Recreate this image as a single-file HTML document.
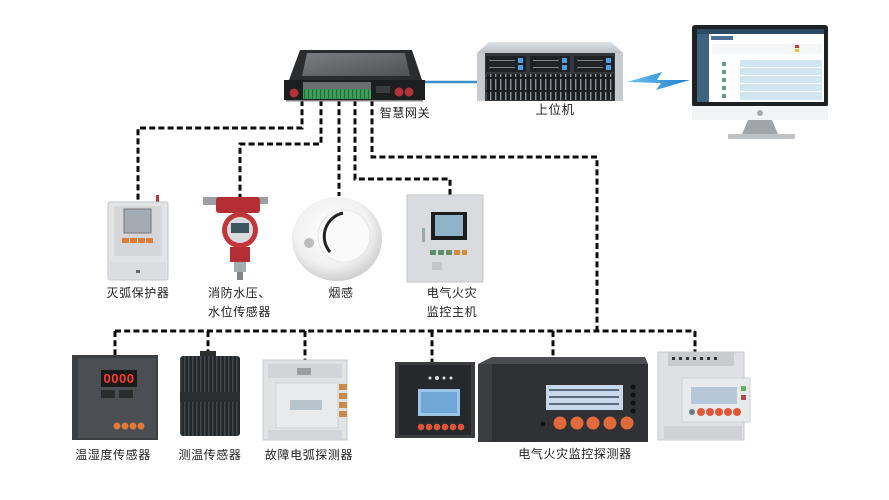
<!DOCTYPE html>
<html><head><meta charset="utf-8">
<style>
html,body{margin:0;padding:0;background:#fff;}
svg{display:block;}
text{font-family:"Liberation Sans","Noto Sans CJK SC",sans-serif;font-size:12px;fill:#222;letter-spacing:0.6px;}
</style></head><body>
<svg width="889" height="500" viewBox="0 0 889 500" xmlns="http://www.w3.org/2000/svg">
<defs>
  <pattern id="bays" width="5" height="13" patternUnits="userSpaceOnUse">
    <rect width="5" height="13" fill="#1b1d21"/>
    <rect x="0" y="1" width="1.4" height="11" fill="#8d939a"/>
  </pattern>
  <pattern id="ribs" width="4" height="10" patternUnits="userSpaceOnUse">
    <rect width="4" height="10" fill="#24272a"/>
    <rect x="0" width="1.5" height="10" fill="#43474c"/>
  </pattern>
  <pattern id="term" width="4" height="10" patternUnits="userSpaceOnUse">
    <rect width="4" height="10" fill="#3d9b5c"/>
    <rect x="0" width="1" height="10" fill="#2a6b3e"/>
  </pattern>
  <radialGradient id="smoke" cx="0.45" cy="0.4" r="0.6">
    <stop offset="0" stop-color="#ffffff"/>
    <stop offset="0.7" stop-color="#f1f1f1"/>
    <stop offset="1" stop-color="#cfcfcf"/>
  </radialGradient>
  <linearGradient id="lid" x1="0" y1="0" x2="0" y2="1">
    <stop offset="0" stop-color="#dfe2e7"/>
    <stop offset="1" stop-color="#b9bec5"/>
  </linearGradient>
  <linearGradient id="bolt" x1="0" y1="0" x2="1" y2="0">
    <stop offset="0" stop-color="#6cc1ee"/>
    <stop offset="1" stop-color="#1f7fd0"/>
  </linearGradient>
  <linearGradient id="gwscreen" x1="0" y1="0" x2="1" y2="1">
    <stop offset="0" stop-color="#7b7d80"/>
    <stop offset="1" stop-color="#4f5154"/>
  </linearGradient>
</defs>

<rect width="889" height="500" fill="#fff"/>

<!-- dashed connectors -->
<g fill="none" stroke="#0d0d0d" stroke-width="3" stroke-dasharray="6 3.2">
  <path d="M302,100 V128 H138 V204"/>
  <path d="M321,100 V144 H240 V198"/>
  <path d="M339,100 V196"/>
  <path d="M355,100 V179 H450 V196"/>
  <path d="M372,100 V157 H597 V331"/>
  <path d="M115,331 H695"/>
  <path d="M115,331 V356"/>
  <path d="M208,331 V356"/>
  <path d="M305,331 V360"/>
  <path d="M432,331 V362"/>
  <path d="M553,331 V360"/>
  <path d="M695,331 V352"/>
</g>

<!-- blue link gateway -> server -->
<line x1="420" y1="82" x2="480" y2="82" stroke="#3a8fc8" stroke-width="2.5"/>

<!-- lightning -->
<polygon points="627,82 662,72 657,80 690,80 656,90 661,83" fill="url(#bolt)"/>

<!-- Gateway -->
<g>
  <polygon points="300,50 412,50 422,80 289,80" fill="#2b2c2e"/>
  <polygon points="307,53 405,53 410,76 302,76" fill="url(#gwscreen)"/>
  <rect x="284" y="80" width="141" height="20" fill="#1d1e20"/>
  <rect x="303" y="82" width="68" height="7" fill="#6b6d70"/>
  <rect x="303" y="89" width="68" height="10" fill="url(#term)"/>
  <rect x="376" y="86" width="14" height="7" fill="#3a3c3f"/>
  <circle cx="294" cy="93" r="4.5" fill="#b3333a"/>
  <circle cx="399" cy="92" r="4.5" fill="#b3333a"/>
  <circle cx="409" cy="92" r="4.5" fill="#b3333a"/>
  <rect x="286" y="100" width="137" height="1.5" fill="#888"/>
</g>
<text x="405" y="117" text-anchor="middle">智慧网关</text>

<!-- Server -->
<g>
  <polygon points="489,42 611,42 623,53 477,53" fill="url(#lid)"/>
  <rect x="477" y="53" width="146" height="48" fill="#34373c"/>
  <rect x="486" y="56" width="40" height="16" fill="#1f2125"/>
  <rect x="530" y="56" width="40" height="16" fill="#1f2125"/>
  <rect x="574" y="56" width="40" height="16" fill="#1f2125"/>
  <g fill="#7d838a">
    <rect x="489" y="60" width="26" height="1"/><rect x="489" y="67" width="26" height="1"/>
    <rect x="533" y="60" width="26" height="1"/><rect x="533" y="67" width="26" height="1"/>
    <rect x="577" y="60" width="26" height="1"/><rect x="577" y="67" width="26" height="1"/>
  </g>
  <g fill="#4aa3e0">
    <rect x="518" y="58" width="5" height="5"/><rect x="518" y="65" width="5" height="5"/>
    <rect x="562" y="58" width="5" height="5"/><rect x="562" y="65" width="5" height="5"/>
    <rect x="606" y="58" width="5" height="5"/><rect x="606" y="65" width="5" height="5"/>
  </g>
  <rect x="486" y="74" width="128" height="26" fill="url(#bays)"/>
  <rect x="477" y="53" width="8" height="48" fill="#c7cace"/>
  <rect x="615" y="53" width="8" height="48" fill="#c7cace"/>
</g>
<text x="555" y="114" text-anchor="middle" style="font-size:12.5px">上位机</text>

<!-- Monitor -->
<g>
  <rect x="692" y="25" width="136" height="82" rx="3" fill="#1e2124"/>
  <rect x="697" y="29" width="127" height="73" fill="#ffffff"/>
  <rect x="697" y="29" width="127" height="5" fill="#2c4a63"/>
  <rect x="697" y="34" width="12" height="68" fill="#3f6283"/>
  <rect x="711" y="36" width="22" height="4" fill="#4a7095"/>
  <rect x="712" y="44" width="110" height="10" fill="#f4f6f8"/>
  <rect x="795" y="45" width="4" height="3" fill="#d33"/>
  <rect x="795" y="49" width="4" height="3" fill="#e8c230"/>
  <rect x="740" y="60" width="82" height="40" fill="#cfe6f0"/>
  <g fill="#fff"><rect x="740" y="67" width="82" height="1"/><rect x="740" y="75" width="82" height="1"/><rect x="740" y="83" width="82" height="1"/><rect x="740" y="91" width="82" height="1"/></g>
  <g fill="#5f9e8c"><rect x="722" y="62" width="4" height="4"/><rect x="722" y="70" width="4" height="4"/><rect x="722" y="78" width="4" height="4"/><rect x="722" y="86" width="4" height="4"/><rect x="722" y="94" width="4" height="4"/></g>
  <rect x="692" y="106" width="136" height="14" fill="#f2f3f4"/>
  <circle cx="760" cy="113" r="3" fill="#a7aaad"/>
  <polygon points="748,120 772,120 778,134 742,134" fill="#a1a4a8"/>
  <rect x="728" y="134" width="67" height="5" rx="1" fill="#bfc2c5"/>
</g>

<!-- 灭弧保护器 -->
<g>
  <rect x="156" y="195" width="3" height="8" fill="#b33"/>
  <rect x="108" y="202" width="60" height="78" rx="2" fill="#e3e4e6" stroke="#c3c5c8"/>
  <rect x="114" y="206" width="48" height="50" fill="#d4d6d9"/>
  <rect x="124" y="209" width="27" height="24" fill="#a3abb3" stroke="#777"/>
  <g fill="#e47b35"><rect x="122" y="238" width="7" height="5"/><rect x="130" y="238" width="7" height="5"/><rect x="138" y="238" width="7" height="5"/><rect x="146" y="238" width="7" height="5"/></g>
  <rect x="110" y="262" width="56" height="17" fill="#dcdde0"/>
  <rect x="136" y="270" width="4" height="3" fill="#666"/>
</g>
<text x="138" y="297" text-anchor="middle">灭弧保护器</text>

<!-- pressure sensor -->
<g>
  <rect x="203" y="197" width="16" height="8" fill="#9aa0a6"/>
  <rect x="256" y="197" width="12" height="7" fill="#9aa0a6"/>
  <rect x="216" y="197" width="44" height="16" rx="3" fill="#b42f34"/>
  <circle cx="240" cy="230" r="18" fill="#c1363b"/>
  <circle cx="240" cy="230" r="13" fill="#d9dcdf"/>
  <rect x="231" y="223" width="18" height="10" fill="#3c5560"/>
  <rect x="230" y="247" width="20" height="15" fill="#b42f34"/>
  <rect x="234" y="262" width="12" height="10" fill="#a7abb0"/>
  <rect x="237" y="272" width="6" height="8" fill="#80858a"/>
</g>
<text x="208" y="297">消防水压、</text>
<text x="208" y="316">水位传感器</text>

<!-- smoke detector -->
<g>
  <ellipse cx="337" cy="239" rx="45" ry="42" fill="url(#smoke)"/>
  <circle cx="344" cy="236" r="26" fill="#fafafa" stroke="#e5e5e5"/>
  <path d="M343,213 A24,24 0 0 0 330,252" fill="none" stroke="#222" stroke-width="3"/>
  <circle cx="309" cy="243" r="5" fill="#bcbcbc"/>
</g>
<text x="341" y="297" text-anchor="middle">烟感</text>

<!-- fire monitor host -->
<g>
  <rect x="407" y="195" width="76" height="87" fill="#d9dbde" stroke="#c2c4c7"/>
  <rect x="431" y="212" width="36" height="28" fill="#1c1d1f"/>
  <rect x="435" y="215" width="28" height="21" fill="#8fb3c8"/>
  <g fill="#5b8f6a"><rect x="430" y="250" width="6" height="5"/><rect x="438" y="250" width="6" height="5"/><rect x="446" y="250" width="6" height="5"/></g>
  <g fill="#d28c3a"><rect x="454" y="250" width="6" height="5"/><rect x="462" y="250" width="5" height="5"/></g>
  <rect x="422" y="228" width="3" height="14" fill="#9aa"/>
  <rect x="432" y="262" width="10" height="8" fill="#c4c6c9"/>
</g>
<text x="452" y="297" text-anchor="middle">电气火灾</text>
<text x="452" y="316" text-anchor="middle">监控主机</text>

<!-- 温湿度传感器 -->
<g>
  <rect x="72" y="355" width="86" height="85" fill="#3c3e41"/>
  <rect x="78" y="358" width="78" height="80" fill="#4b4e52"/>
  <rect x="101" y="370" width="36" height="17" fill="#1a1a1a"/>
  <text x="119" y="383" text-anchor="middle" style="font-size:13px;fill:#ff3b2f;letter-spacing:0.5px;font-weight:bold">0000</text>
  <rect x="101" y="390" width="14" height="8" fill="#2a2c2e"/>
  <rect x="119" y="390" width="14" height="8" fill="#2a2c2e"/>
  <g fill="#e07a3c"><circle cx="117" cy="426" r="3.5"/><circle cx="125" cy="426" r="3.5"/><circle cx="133" cy="426" r="3.5"/><circle cx="141" cy="426" r="3.5"/></g>
</g>
<text x="113" y="459" text-anchor="middle">温湿度传感器</text>

<!-- 测温传感器 -->
<g>
  <rect x="200" y="351" width="16" height="6" fill="#2b2e31"/>
  <rect x="180" y="356" width="60" height="80" rx="3" fill="url(#ribs)"/>
  <rect x="180" y="392" width="60" height="10" fill="#2b2e31"/>
</g>
<text x="210" y="459" text-anchor="middle">测温传感器</text>

<!-- 故障电弧探测器 -->
<g>
  <rect x="263" y="360" width="84" height="80" fill="#e1e2e4" stroke="#c6c8cb"/>
  <rect x="268" y="364" width="74" height="14" fill="#d2d4d7"/>
  <rect x="297" y="368" width="14" height="7" fill="#9a9da1"/>
  <rect x="276" y="383" width="62" height="45" fill="#e9eaec" stroke="#cfd1d4"/>
  <rect x="290" y="400" width="32" height="10" fill="#b8c4cc"/>
  <g fill="#c98a4a"><rect x="339" y="384" width="8" height="6"/><rect x="339" y="393" width="8" height="6"/><rect x="339" y="402" width="8" height="6"/><rect x="339" y="411" width="8" height="6"/></g>
  <rect x="268" y="430" width="74" height="10" fill="#d3d5d8"/>
</g>
<text x="309" y="459" text-anchor="middle">故障电弧探测器</text>

<!-- 电气火灾监控探测器 1 -->
<g>
  <rect x="395" y="362" width="80" height="76" fill="#3a3c3f"/>
  <rect x="399" y="365" width="72" height="70" fill="#26282b"/>
  <g fill="#ddd"><circle cx="430" cy="378" r="1.5"/><circle cx="437" cy="378" r="2"/><circle cx="444" cy="378" r="1.5"/><circle cx="451" cy="378" r="1.5"/></g>
  <rect x="418" y="389" width="42" height="27" fill="#9cc6e6"/>
  <rect x="421" y="392" width="36" height="21" fill="#6fa8d6"/>
  <g fill="#e0543a"><circle cx="421" cy="427" r="3.3"/><circle cx="429" cy="427" r="3.3"/><circle cx="437" cy="427" r="3.3"/><circle cx="445" cy="427" r="3.3"/><circle cx="453" cy="427" r="3.3"/><circle cx="461" cy="427" r="3.3"/></g>
</g>

<!-- 电气火灾监控探测器 2 -->
<g>
  <polygon points="492,357 645,357 648,364 478,364" fill="#4a4c50"/>
  <rect x="478" y="364" width="170" height="78" fill="#2f3134"/>
  <rect x="478" y="364" width="14" height="78" fill="#3b3d41"/>
  <rect x="546" y="385" width="77" height="25" fill="#c8d8ec"/>
  <g fill="#5c6a7c"><rect x="549" y="389" width="70" height="2"/><rect x="549" y="396" width="70" height="2"/><rect x="549" y="403" width="70" height="2"/></g>
  <g fill="#111"><circle cx="633" cy="387" r="2.5"/><circle cx="633" cy="395" r="2.5"/><circle cx="633" cy="403" r="2.5"/><circle cx="633" cy="411" r="2.5"/></g>
  <circle cx="543" cy="424" r="2.5" fill="#111"/>
  <g fill="#e06a3a"><circle cx="560" cy="423" r="6.5"/><circle cx="577" cy="423" r="6.5"/><circle cx="593" cy="423" r="6.5"/><circle cx="610" cy="423" r="6.5"/><circle cx="627" cy="423" r="6.5"/></g>
</g>

<!-- 电气火灾监控探测器 3 -->
<g>
  <rect x="658" y="352" width="86" height="88" fill="#dfe0e3" stroke="#c8cace"/>
  <rect x="668" y="352" width="66" height="14" fill="#c9cbce"/>
  <g fill="#333"><rect x="672" y="357" width="3" height="3"/><rect x="679" y="357" width="3" height="3"/><rect x="686" y="357" width="3" height="3"/><rect x="693" y="357" width="3" height="3"/><rect x="700" y="357" width="3" height="3"/><rect x="707" y="357" width="3" height="3"/><rect x="714" y="357" width="3" height="3"/></g>
  <rect x="682" y="378" width="68" height="44" fill="#e8e9eb" stroke="#cdd0d3"/>
  <rect x="691" y="387" width="46" height="17" fill="#b7c7da"/>
  <rect x="741" y="386" width="5" height="5" fill="#5fb55f"/>
  <rect x="741" y="395" width="5" height="5" fill="#b04848"/>
  <circle cx="692" cy="412" r="3" fill="#6a7c8c"/>
  <g fill="#e0583a"><circle cx="701" cy="412" r="4"/><circle cx="710" cy="412" r="4"/><circle cx="719" cy="412" r="4"/><circle cx="728" cy="412" r="4"/><circle cx="737" cy="412" r="4"/></g>
  <rect x="664" y="426" width="78" height="13" fill="#cfd1d4"/>
</g>
<text x="575" y="458" text-anchor="middle">电气火灾监控探测器</text>

</svg>
</body></html>
